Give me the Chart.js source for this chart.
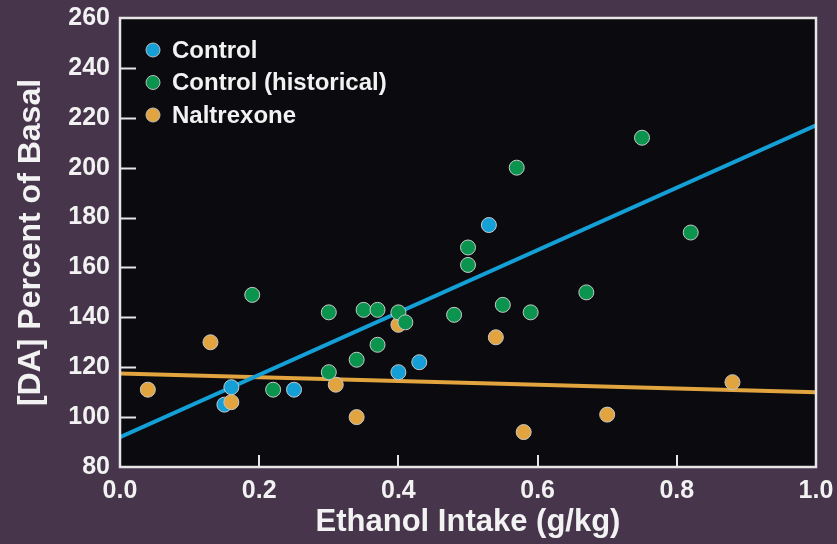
<!DOCTYPE html>
<html>
<head>
<meta charset="utf-8">
<script src="https://cdn.jsdelivr.net/npm/chart.js@4"></script>
<style>
  html, body { margin: 0; padding: 0; background: #46354b; }
  #wrap { width: 837px; height: 544px; }
</style>
</head>
<body>
<div id="wrap"><canvas id="chart-da" width="837" height="544"></canvas></div>
<script>
// values
const controlPts = [
    {x: 0.15, y: 105}, {x: 0.16, y: 112}, {x: 0.25, y: 111},
    {x: 0.40, y: 118}, {x: 0.43, y: 122}, {x: 0.53, y: 177}
];
const historicalPts = [
    {x: 0.19, y: 149}, {x: 0.22, y: 111}, {x: 0.30, y: 142}, {x: 0.30, y: 118},
    {x: 0.34, y: 123}, {x: 0.35, y: 143}, {x: 0.37, y: 143}, {x: 0.37, y: 129},
    {x: 0.40, y: 142}, {x: 0.41, y: 138}, {x: 0.48, y: 141}, {x: 0.50, y: 168},
    {x: 0.50, y: 161}, {x: 0.57, y: 200}, {x: 0.55, y: 145}, {x: 0.59, y: 142},
    {x: 0.67, y: 150}, {x: 0.75, y: 212}, {x: 0.82, y: 174}
];
const naltrexonePts = [
    {x: 0.04, y: 111}, {x: 0.13, y: 130}, {x: 0.16, y: 106}, {x: 0.31, y: 113},
    {x: 0.34, y: 100}, {x: 0.40, y: 137}, {x: 0.54, y: 132}, {x: 0.58, y: 94},
    {x: 0.70, y: 101}, {x: 0.88, y: 114}
];
// fitted lines (end points at x = 0 and x = 1)
const controlFit = [{x: 0, y: 92}, {x: 1, y: 217}];
const naltrexoneFit = [{x: 0, y: 117.5}, {x: 1, y: 110}];

const xTicks = [0, 0.2, 0.4, 0.6, 0.8, 1.0];
const yTicks = [80, 100, 120, 140, 160, 180, 200, 220, 240, 260];

const BLUE = "rgb(20, 160, 215)";
const GREEN = "rgb(10, 148, 78)";
const ORANGE = "rgb(226, 164, 62)";
const FONT = "'Liberation Sans', Arial, sans-serif";

const plotFrame = {
    id: "plotFrame",
    beforeDraw(chart) {
        const {ctx, chartArea: a} = chart;
        ctx.save();
        ctx.fillStyle = "#0a0a0f";
        ctx.fillRect(a.left, a.top, a.right - a.left, a.bottom - a.top);
        ctx.restore();
    },
    afterDraw(chart) {
        const {ctx, chartArea: a, scales} = chart;
        ctx.save();
        ctx.strokeStyle = "#e6e6e6";
        ctx.lineWidth = 2;
        // inner tick marks
        ctx.beginPath();
        yTicks.slice(1, -1).forEach(v => {
            let py = Math.round(scales.y.getPixelForValue(v)) + 0.5;
            ctx.moveTo(a.left, py);
            ctx.lineTo(a.left + 16, py);
        });
        xTicks.slice(1, -1).forEach(v => {
            let px = Math.round(scales.x.getPixelForValue(v));
            ctx.moveTo(px, a.bottom);
            ctx.lineTo(px, a.bottom - 12);
        });
        ctx.stroke();
        ctx.lineWidth = 2.5;
        ctx.strokeRect(a.left, a.top, a.right - a.left, a.bottom - a.top);

        // legend, top-left inside the plot
        let items = chart.data.datasets.filter(d => d.inLegend);
        items.sort((p, q) => p.legendPos - q.legendPos);
        ctx.font = "bold 24px " + FONT;
        ctx.textBaseline = "middle";
        ctx.textAlign = "left";
        items.forEach((d, i) => {
            let cy = 50 + i * 32.5;
            ctx.beginPath();
            ctx.arc(153, cy, 7, 0, Math.PI * 2);
            ctx.fillStyle = d.backgroundColor;
            ctx.fill();
            ctx.lineWidth = 1;
            ctx.strokeStyle = "#bdbdbd";
            ctx.stroke();
            ctx.fillStyle = "#f2f2f2";
            ctx.fillText(d.label, 172, cy + 1);
        });
        ctx.restore();
    }
};

const pointStyle = (label, data, color, order, legendPos) => ({
    label, data, order, legendPos,
    inLegend: true,
    backgroundColor: color,
    borderColor: "#c8c8c8",
    borderWidth: 1,
    pointRadius: 7.5,
    pointHoverRadius: 7.5
});

const lineStyle = (data, color, order) => ({
    type: "line",
    data, order,
    borderColor: color,
    borderWidth: 4,
    pointRadius: 0,
    fill: false
});

new Chart(document.getElementById("chart-da"), {
    type: "scatter",
    data: {
        datasets: [
            pointStyle("Control (historical)", historicalPts, GREEN, 1, 1),
            pointStyle("Naltrexone", naltrexonePts, ORANGE, 2, 2),
            pointStyle("Control", controlPts, BLUE, 3, 0),
            lineStyle(controlFit, BLUE, 4),
            lineStyle(naltrexoneFit, ORANGE, 5)
        ]
    },
    options: {
        responsive: false,
        animation: false,
        layout: {padding: {top: 18, right: 21, left: 0, bottom: 0}},
        plugins: {legend: {display: false}, tooltip: {enabled: false}},
        scales: {
            x: {
                type: "linear",
                min: 0, max: 1,
                afterFit: s => { s.height = 77; s.paddingLeft = 0; s.paddingRight = 0; },
                afterBuildTicks: s => { s.ticks = xTicks.map(v => ({value: v})); },
                grid: {display: false, drawTicks: false},
                border: {display: false},
                ticks: {
                    color: "#f2f2f2",
                    padding: 9,
                    maxRotation: 0,
                    font: {family: FONT, size: 25, weight: "bold"},
                    callback: v => v.toFixed(1)
                },
                title: {
                    display: true,
                    text: "Ethanol Intake (g/kg)",
                    color: "#f2f2f2",
                    padding: {top: 0, bottom: 3},
                    font: {family: FONT, size: 31, weight: "bold"}
                }
            },
            y: {
                min: 80, max: 260,
                afterFit: s => { s.width = 120; s.paddingTop = 0; s.paddingBottom = 0; },
                afterBuildTicks: s => { s.ticks = yTicks.map(v => ({value: v})); },
                grid: {display: false, drawTicks: false},
                border: {display: false},
                ticks: {
                    color: "#f2f2f2",
                    padding: 10,
                    font: {family: FONT, size: 25, weight: "bold"}
                },
                title: {
                    display: true,
                    text: "[DA] Percent of Basal",
                    color: "#f2f2f2",
                    padding: {top: 12, bottom: 0},
                    font: {family: FONT, size: 32, weight: "bold"}
                }
            }
        }
    },
    plugins: [plotFrame]
});
</script>
</body>
</html>
